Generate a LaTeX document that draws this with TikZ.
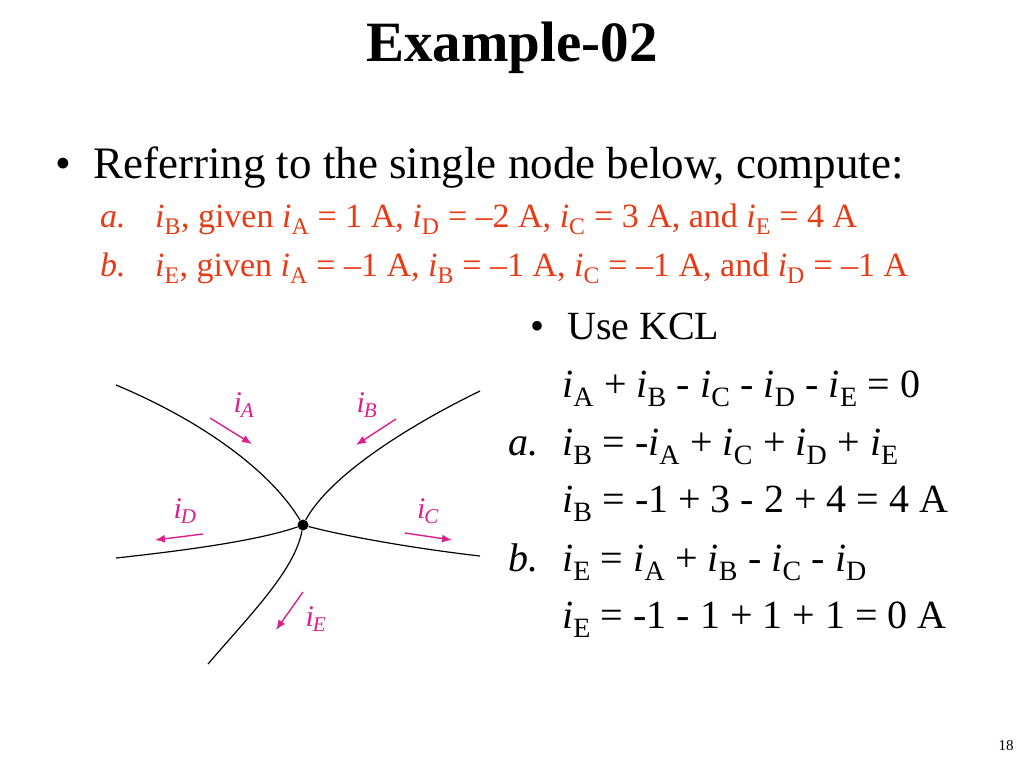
\documentclass[tikz,border=0pt]{standalone}
\usepackage{fontspec}
\setmainfont{Liberation Serif}
\usetikzlibrary{arrows.meta}
\definecolor{probred}{RGB}{232,58,20}
\definecolor{curmag}{RGB}{222,30,140}
\newcommand{\cur}[1]{\textit{i}\textsubscript{#1}}
\newcommand{\fcur}[1]{\textit{i}\textsubscript{\kern-0.05em\textit{#1}}}
\tikzset{
  txt/.style={anchor=base west, inner sep=0pt},
  wire/.style={line width=1.2pt},
  flow/.style={curmag, line width=1.4pt, -{Latex[length=10pt,width=8pt]}},
  flowlbl/.style={curmag, font=\fontsize{30}{32}\selectfont, inner sep=0pt}
}
\begin{document}
\begin{tikzpicture}[x=1pt,y=-1pt]
    \useasboundingbox (0,0) rectangle (1024,768);

    % Title
    \node[anchor=base, inner sep=0pt, font=\fontsize{57}{60}\selectfont\bfseries] (title) at (512,62) {Example-02};

    % Problem
    \node[txt, font=\fontsize{45}{48}\selectfont] (dot1) at (55,178) {•};
    \node[txt, font=\fontsize{45}{48}\selectfont] (intro) at (93,178) {Referring to the single node below, compute:};
    \begin{scope}[probred, font=\fontsize{34}{36}\selectfont]
        \node[txt] (pa) at (100,227) {\textit{a.}};
        \node[txt] (qa) at (155,227) {\cur{B}, given \cur{A} = 1 A, \cur{D} = –2 A, \cur{C} = 3 A, and \cur{E} = 4 A};
        \node[txt] (pb) at (100,276) {\textit{b.}};
        \node[txt] (qb) at (155,276) {\cur{E}, given \cur{A} = –1 A, \cur{B} = –1 A, \cur{C} = –1 A, and \cur{D} = –1 A};
    \end{scope}

    % Solution
    \begin{scope}[font=\fontsize{40}{44}\selectfont]
        \node[txt] (dot2) at (530,339) {•};
        \node[txt] (kcl) at (567,339) {Use KCL};
        \node[txt] (eq1) at (562,397) {\cur{A} + \cur{B} - \cur{C} - \cur{D} - \cur{E} = 0};
        \node[txt] (sa) at (508,455) {\textit{a.}};
        \node[txt] (eq2) at (562,455) {\cur{B} = -\cur{A} + \cur{C} + \cur{D} + \cur{E}};
        \node[txt] (eq3) at (562,512) {\cur{B} = -1 + 3 - 2 + 4 = 4 A};
        \node[txt] (sb) at (508,571) {\textit{b.}};
        \node[txt] (eq4) at (562,571) {\cur{E} = \cur{A} + \cur{B} - \cur{C} - \cur{D}};
        \node[txt] (eq5) at (562,628) {\cur{E} = -1 - 1 + 1 + 1 = 0 A};
    \end{scope}

    % Node and wires
    \node[circle, fill, inner sep=0pt, minimum size=11pt] (n) at (303,525) {};
    \coordinate (wA) at (116,385);
    \coordinate (wB) at (480,391);
    \coordinate (wC) at (480,556);
    \coordinate (wD) at (116,558);
    \coordinate (wE) at (208,664);
    \draw[wire] (wA) .. controls (200,420) and (270,470) .. (n);
    \draw[wire] (wB) .. controls (410,425) and (330,475) .. (n);
    \draw[wire] (wC) .. controls (410,548) and (340,535) .. (n);
    \draw[wire] (wD) .. controls (190,550) and (260,540) .. (n);
    \draw[wire] (wE) .. controls (250,615) and (295,570) .. (n);

    % Currents
    \draw[flow] (210,418) -- (252,444);
    \draw[flow] (396,419) -- (356,445);
    \draw[flow] (405,533) -- (452,540);
    \draw[flow] (203,534) -- (155,540);
    \draw[flow] (303,592) -- (276,630);
    \node[flowlbl] (lA) at (244,405) {\fcur{A}};
    \node[flowlbl] (lB) at (367,405) {\fcur{B}};
    \node[flowlbl] (lC) at (428,511) {\fcur{C}};
    \node[flowlbl] (lD) at (185,511) {\fcur{D}};
    \node[flowlbl] (lE) at (316,619) {\fcur{E}};

    % Page number
    \node[anchor=base, inner sep=0pt, font=\fontsize{15}{16}\selectfont] (page) at (1006,750) {18};
\end{tikzpicture}
\end{document}
